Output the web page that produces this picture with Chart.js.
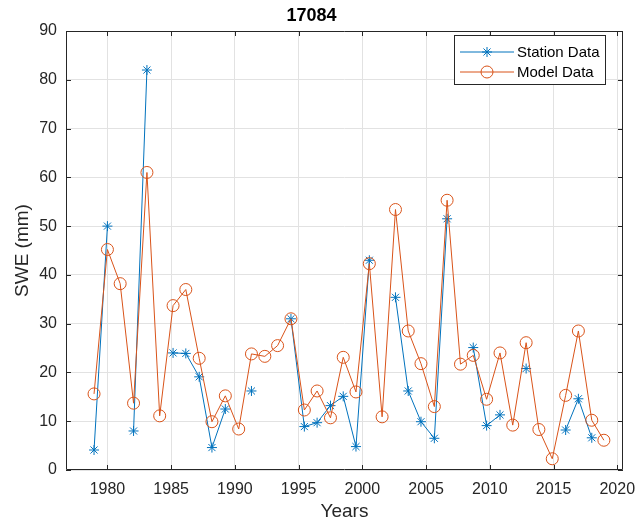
<!DOCTYPE html>
<html>
<head>
<meta charset="utf-8">
<script src="https://cdn.jsdelivr.net/npm/chart.js"></script>
<style>
  body { margin: 0; background: #fff; }
  #wrap { width: 636px; height: 525px; position: relative; }
</style>
</head>
<body>
<div id="wrap"><canvas id="myChart"></canvas></div>
<script>
// x positions (years), one per record
var years = [1978.95, 1980.0, 1981.0, 1982.05, 1983.1, 1984.1, 1985.15, 1986.15, 1987.2, 1988.2,
             1989.25, 1990.3, 1991.3, 1992.35, 1993.35, 1994.4, 1995.45, 1996.45, 1997.5, 1998.5,
             1999.5, 2000.55, 2001.55, 2002.6, 2003.6, 2004.6, 2005.65, 2006.65, 2007.7, 2008.7,
             2009.75, 2010.8, 2011.8, 2012.85, 2013.85, 2014.9, 2015.95, 2016.95, 2018.0, 2018.95];

var stationSWE = [4.1, 50.0, null, 8.0, 82.0, null, 24.0, 23.9, 19.1, 4.6,
                  12.5, null, 16.2, null, null, 31.0, 8.9, 9.7, 13.2, 15.1,
                  4.8, 43.0, null, 35.4, 16.2, 9.9, 6.5, 51.5, null, 25.1,
                  9.1, 11.3, null, 20.8, null, null, 8.2, 14.6, 6.6, null];

var modelSWE = [15.6, 45.2, 38.2, 13.7, 61.0, 11.1, 33.7, 37.0, 22.9, 9.9,
                15.2, 8.4, 23.8, 23.3, 25.5, 31.0, 12.3, 16.2, 10.7, 23.1,
                16.0, 42.3, 10.9, 53.4, 28.5, 21.8, 13.0, 55.3, 21.7, 23.5,
                14.5, 24.0, 9.2, 26.1, 8.3, 2.3, 15.3, 28.5, 10.2, 6.1];

var xTicks = [1980, 1985, 1990, 1995, 2000, 2005, 2010, 2015, 2020];
var yTicks = [0, 10, 20, 30, 40, 50, 60, 70, 80, 90];

var FONT = '"Liberation Sans", Arial, Helvetica, sans-serif';
var BLUE = '#0072BD';
var ORANGE = '#D95319';
var AXIS = '#262626';

function toPoints(vals) {
    return years.map(function(y, i) { return {x: y, y: vals[i]}; });
}

// box round the axes, inward tick marks and the legend (MATLAB look)
var matlabBox = {
    id: 'matlabBox',
    afterDraw: function(chart) {
        var ctx = chart.ctx;
        var a = chart.chartArea;
        var xs = chart.scales.x, ys = chart.scales.y;
        ctx.save();
        ctx.strokeStyle = AXIS;
        ctx.lineWidth = 1;
        ctx.beginPath();
        ctx.rect(a.left + 0.5, a.top + 0.5, a.right - a.left - 1, a.bottom - a.top - 1);
        xTicks.forEach(function(t) {
            var px = Math.round(xs.getPixelForValue(t)) + 0.5;
            ctx.moveTo(px, a.bottom); ctx.lineTo(px, a.bottom - 5);
            ctx.moveTo(px, a.top); ctx.lineTo(px, a.top + 5);
        });
        yTicks.forEach(function(t) {
            var py = Math.round(ys.getPixelForValue(t)) + 0.5;
            ctx.moveTo(a.left, py); ctx.lineTo(a.left + 5, py);
            ctx.moveTo(a.right, py); ctx.lineTo(a.right - 5, py);
        });
        ctx.stroke();

        // legend
        var bx = 454, by = 35, bw = 151, bh = 49;
        ctx.fillStyle = '#fff';
        ctx.fillRect(bx, by, bw, bh);
        ctx.strokeRect(bx + 0.5, by + 0.5, bw, bh);
        chart.data.datasets.forEach(function(ds, i) {
            var ly = by + 17 + i * 20;
            ctx.strokeStyle = ds.borderColor;
            ctx.lineWidth = 1;
            ctx.beginPath();
            ctx.moveTo(bx + 6, ly); ctx.lineTo(bx + 60, ly);
            ctx.stroke();
            var mx = bx + 33;
            ctx.beginPath();
            if (ds.pointStyle === 'star') {
                var r = ds.pointRadius, d = r * Math.SQRT1_2;
                ctx.moveTo(mx - r, ly); ctx.lineTo(mx + r, ly);
                ctx.moveTo(mx, ly - r); ctx.lineTo(mx, ly + r);
                ctx.moveTo(mx - d, ly - d); ctx.lineTo(mx + d, ly + d);
                ctx.moveTo(mx - d, ly + d); ctx.lineTo(mx + d, ly - d);
            } else {
                ctx.arc(mx, ly, ds.pointRadius, 0, Math.PI * 2);
            }
            ctx.stroke();
            ctx.fillStyle = '#000';
            ctx.font = '15px ' + FONT;
            ctx.textBaseline = 'middle';
            ctx.textAlign = 'left';
            ctx.fillText(ds.label, bx + 63, ly + 1);
        });
        ctx.restore();
    }
};

var ctx = document.getElementById('myChart').getContext('2d');
var chart = new Chart(ctx, {
    type: 'line',
    data: {
        datasets: [{
            label: 'Station Data',
            data: toPoints(stationSWE),
            borderColor: BLUE,
            backgroundColor: BLUE,
            borderWidth: 1,
            pointStyle: 'star',
            pointRadius: 5,
            pointBorderWidth: 1,
            spanGaps: false,
            order: 2
        },
        {
            label: 'Model Data',
            data: toPoints(modelSWE),
            borderColor: ORANGE,
            backgroundColor: 'rgba(0,0,0,0)',
            borderWidth: 1,
            pointStyle: 'circle',
            pointRadius: 6,
            pointBorderWidth: 1,
            order: 1
        }]
    },
    options: {
        responsive: true,
        maintainAspectRatio: false,
        animation: false,
        layout: { padding: { left: 0, right: 13, top: 0, bottom: 0 } },
        plugins: {
            legend: { display: false },
            tooltip: { enabled: false },
            title: {
                display: true,
                text: '17084',
                color: '#000',
                font: { family: FONT, size: 18, weight: 'bold' },
                padding: { top: 5, bottom: 4.4 }
            }
        },
        scales: {
            x: {
                type: 'linear',
                min: 1976.75,
                max: 2020.45,
                afterFit: function(s) { s.height = 55; s.paddingLeft = 0; s.paddingRight = 0; },
                afterBuildTicks: function(s) { s.ticks = xTicks.map(function(v) { return {value: v}; }); },
                ticks: {
                    color: AXIS,
                    font: { family: FONT, size: 16 },
                    padding: 10,
                    maxRotation: 0,
                    callback: function(v) { return String(v); }
                },
                grid: { color: '#e2e2e2', drawTicks: false },
                border: { display: false },
                title: {
                    display: true,
                    text: 'Years',
                    color: AXIS,
                    font: { family: FONT, size: 19 },
                    padding: { top: 0, bottom: 1.5 }
                }
            },
            y: {
                min: 0,
                max: 90,
                afterFit: function(s) { s.width = 66; s.paddingTop = 0; s.paddingBottom = 0; },
                afterBuildTicks: function(s) { s.ticks = yTicks.map(function(v) { return {value: v}; }); },
                ticks: {
                    color: AXIS,
                    font: { family: FONT, size: 16 },
                    padding: 9
                },
                grid: { color: '#e2e2e2', drawTicks: false },
                border: { display: false },
                title: {
                    display: true,
                    text: 'SWE (mm)',
                    color: AXIS,
                    font: { family: FONT, size: 19 },
                    padding: { top: 11.5, bottom: 0 }
                }
            }
        }
    },
    plugins: [matlabBox]
});
</script>
</body>
</html>
